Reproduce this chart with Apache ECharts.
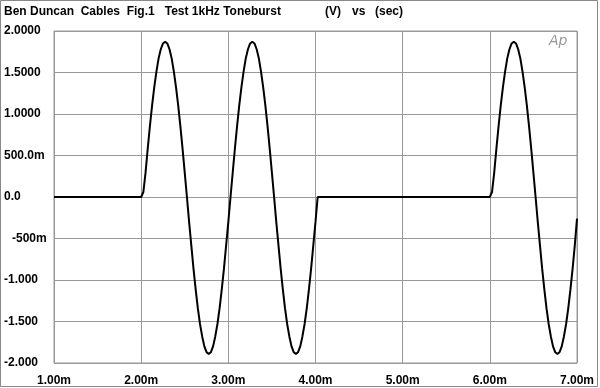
<!DOCTYPE html>
<html>
<head>
<meta charset="utf-8">
<script src="https://cdn.jsdelivr.net/npm/echarts@6/dist/echarts.min.js"></script>
<style>html,body{margin:0;padding:0;background:#fff}#c{width:600px;height:388px}</style>
</head>
<body>
<div id="c"></div>
<script>
// time in ms
var timeMs = [
  1.000,
  2.000, 2.025, 2.050, 2.075, 2.100, 2.125, 2.150, 2.175, 2.200, 2.225,
  2.250, 2.275, 2.300, 2.325, 2.350, 2.375, 2.400, 2.425, 2.450, 2.475,
  2.500, 2.525, 2.550, 2.575, 2.600, 2.625, 2.650, 2.675, 2.700, 2.725,
  2.750, 2.775, 2.800, 2.825, 2.850, 2.875, 2.900, 2.925, 2.950, 2.975,
  3.000, 3.025, 3.050, 3.075, 3.100, 3.125, 3.150, 3.175, 3.200, 3.225,
  3.250, 3.275, 3.300, 3.325, 3.350, 3.375, 3.400, 3.425, 3.450, 3.475,
  3.500, 3.525, 3.550, 3.575, 3.600, 3.625, 3.650, 3.675, 3.700, 3.725,
  3.750, 3.775, 3.800, 3.825, 3.850, 3.875, 3.900, 3.925, 3.950, 3.975,
  4.000, 4.025,
  6.000, 6.025, 6.050, 6.075, 6.100, 6.125, 6.150, 6.175, 6.200, 6.225,
  6.250, 6.275, 6.300, 6.325, 6.350, 6.375, 6.400, 6.425, 6.450, 6.475,
  6.500, 6.525, 6.550, 6.575, 6.600, 6.625, 6.650, 6.675, 6.700, 6.725,
  6.750, 6.775, 6.800, 6.825, 6.850, 6.875, 6.900, 6.925, 6.950, 6.975,
  7.000
];
// volts
var volts = [
  0.00,
  0.00, 0.06, 0.29, 0.58, 0.85, 1.10, 1.32, 1.51, 1.67, 1.78,
  1.85, 1.87, 1.85, 1.78, 1.67, 1.51, 1.32, 1.10, 0.85, 0.58,
  0.29, 0.00, -0.30, -0.58, -0.86, -1.11, -1.34, -1.53, -1.68, -1.80,
  -1.87, -1.89, -1.87, -1.80, -1.68, -1.53, -1.34, -1.11, -0.86, -0.58,
  -0.30, 0.00, 0.29, 0.58, 0.85, 1.10, 1.32, 1.51, 1.67, 1.78,
  1.85, 1.87, 1.85, 1.78, 1.67, 1.51, 1.32, 1.10, 0.85, 0.58,
  0.29, 0.00, -0.30, -0.58, -0.86, -1.11, -1.34, -1.53, -1.68, -1.80,
  -1.87, -1.89, -1.87, -1.80, -1.68, -1.53, -1.34, -1.11, -0.86, -0.58,
  -0.30, 0.00,
  0.00, 0.06, 0.29, 0.58, 0.85, 1.10, 1.32, 1.51, 1.67, 1.78,
  1.85, 1.87, 1.85, 1.78, 1.67, 1.51, 1.32, 1.10, 0.85, 0.58,
  0.29, 0.00, -0.30, -0.58, -0.86, -1.11, -1.34, -1.53, -1.68, -1.80,
  -1.87, -1.89, -1.87, -1.80, -1.68, -1.53, -1.34, -1.11, -0.86, -0.58,
  -0.26
];
var yTickLabels = ['-2.000', '-1.500', '-1.000', '-500m', '0.0', '500.0m', '1.0000', '1.5000', '2.0000'];
var xTickLabels = ['1.00m', '2.00m', '3.00m', '4.00m', '5.00m', '6.00m', '7.00m'];

var data = timeMs.map(function (t, i) { return [t, volts[i]]; });
var FONT = '"Liberation Sans", Arial, sans-serif';
var TS = {fontFamily: FONT, fontSize: 12, fontWeight: 'bold', color: '#000'};
var chart = echarts.init(document.getElementById('c'), null, {renderer: 'canvas'});
chart.setOption({
  animation: false,
  backgroundColor: '#fff',
  title: [
    {text: 'Ben Duncan  Cables  Fig.1   Test 1kHz Toneburst', left: 4, top: 6, padding: 0, textStyle: TS},
    {text: '(V)', left: 325, top: 6, padding: 0, textStyle: TS},
    {text: 'vs', left: 352, top: 6, padding: 0, textStyle: TS},
    {text: '(sec)', left: 375, top: 6, padding: 0, textStyle: TS}
  ],
  graphic: [
    {type: 'rect', shape: {x: 0.5, y: 0.5, width: 597, height: 386}, style: {fill: 'none', stroke: '#888', lineWidth: 1}, silent: true},
    {type: 'text', left: 549, top: 34, style: {text: 'Ap', font: 'italic 14px "DejaVu Sans", sans-serif', fill: '#999'}, silent: true}
  ],
  grid: {left: 54, top: 31, right: 23, bottom: 25, containLabel: false, show: true, borderColor: '#999', borderWidth: 1},
  xAxis: {
    type: 'value', min: 1, max: 7, interval: 1,
    axisLine: {show: false}, axisTick: {show: false},
    splitLine: {show: true, lineStyle: {color: '#999', width: 1}},
    axisLabel: {
      margin: 12, fontFamily: FONT, fontSize: 12, fontWeight: 'bold', color: '#000',
      formatter: function (v) { return xTickLabels[Math.round(v - 1)]; }
    }
  },
  yAxis: {
    type: 'value', min: -2, max: 2, interval: 0.5,
    axisLine: {show: false}, axisTick: {show: false},
    splitLine: {show: true, lineStyle: {color: '#999', width: 1}},
    axisLabel: {
      margin: 50, align: 'left', fontFamily: FONT, fontSize: 12, fontWeight: 'bold', color: '#000',
      formatter: function (v) {
        var s = yTickLabels[Math.round((v + 2) / 0.5)];
        return s === '-500m' ? '{p|' + s + '}' : s;
      },
      rich: {p: {padding: [0, 0, 0, 8], fontFamily: FONT, fontSize: 12, fontWeight: 'bold', color: '#000'}}
    }
  },
  series: [{
    type: 'line', data: data, smooth: false, showSymbol: false,
    lineStyle: {color: '#000', width: 2}
  }]
});
</script>
</body>
</html>
